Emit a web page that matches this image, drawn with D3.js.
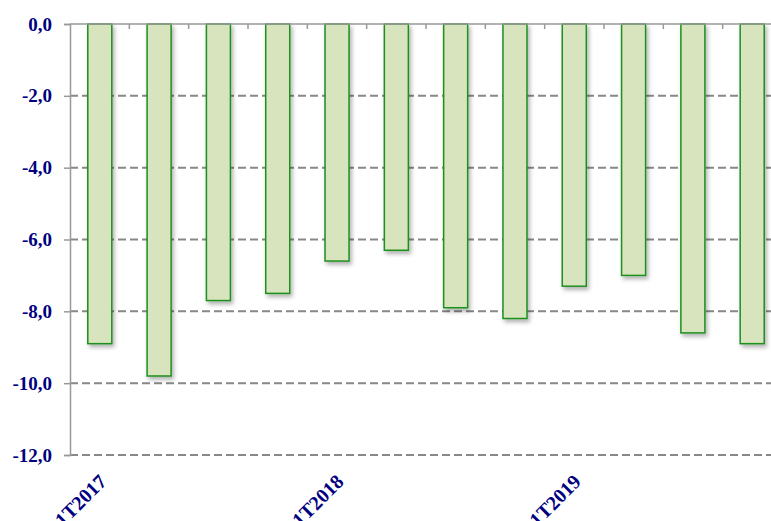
<!DOCTYPE html>
<html>
<head>
<meta charset="utf-8">
<script src="https://cdn.jsdelivr.net/npm/d3@7/dist/d3.min.js"></script>
<style>
  body { margin: 0; background: #fff; overflow: hidden; }
  text { font-family: "Liberation Serif", "Times New Roman", serif; font-weight: bold; fill: #000080; }
</style>
</head>
<body>
<div id="content"></div>
<script>
(function(d3) {

   var categories = ["1T2017", "2T2017", "3T2017", "4T2017",
                     "1T2018", "2T2018", "3T2018", "4T2018",
                     "1T2019", "2T2019", "3T2019", "4T2019"];
   var values = [-8.9, -9.8, -7.7, -7.5, -6.6, -6.3, -7.9, -8.2, -7.3, -7.0, -8.6, -8.9];
   var y_ticks = [0, -2, -4, -6, -8, -10, -12];
   var x_labels = ["1T2017", "1T2018", "1T2019"];

   var win_width = 771;
   var win_height = 521;
   var left = 70, right = 782, top = 24, bottom = 455;

   var svg = d3.select("#content")
            .append("svg")
            .attr("width", win_width)
            .attr("height", win_height);

   var defs = svg.append("defs");
   var f = defs.append("filter").attr("id", "shadow")
            .attr("x", "-20%").attr("y", "-5%").attr("width", "150%").attr("height", "120%");
   f.append("feDropShadow").attr("dx", 2).attr("dy", 3).attr("stdDeviation", 2)
            .attr("flood-color", "#000").attr("flood-opacity", 0.3);

   var x = d3.scaleBand().domain(categories).range([left, right]).paddingInner(0.595).paddingOuter(0.3);
   var y = d3.scaleLinear().domain([-12, 0]).range([bottom, top]);

   // dashed grid
   svg.append("g").selectAll("line")
      .data(y_ticks.filter(function(d) { return d !== 0; }))
      .join("line")
      .attr("x1", left).attr("x2", win_width)
      .attr("y1", function(d) { return y(d); }).attr("y2", function(d) { return y(d); })
      .attr("stroke", "#888").attr("stroke-width", 2).attr("stroke-dasharray", "8,4");

   // y axis
   var yAxis = svg.append("g").attr("transform", "translate(" + left + ",0)")
      .call(d3.axisLeft(y).tickValues(y_ticks).tickSize(6).tickPadding(12)
            .tickFormat(function(d) { return d3.format(".1f")(d).replace(".", ",").replace("−", "-"); }));
   yAxis.attr("font-family", null).attr("font-size", null);
   yAxis.select(".domain").attr("stroke", "#999").attr("stroke-width", 1.5);
   yAxis.selectAll(".tick line").attr("stroke", "#999").attr("stroke-width", 1.5);
   yAxis.selectAll("text").style("font-size", "19px").attr("fill", "#000080");

   // bars
   svg.append("g").selectAll("rect")
      .data(values)
      .join("rect")
      .attr("x", function(d, i) { return x(categories[i]); })
      .attr("y", y(0))
      .attr("width", x.bandwidth())
      .attr("height", function(d) { return y(d) - y(0); })
      .attr("fill", "#d7e4bd")
      .attr("stroke", "#1f8f1f")
      .attr("stroke-width", 1.5)
      .attr("filter", "url(#shadow)");

   // zero axis with inward ticks at band boundaries
   var bounds = d3.range(1, categories.length).map(function(i) { return left + i * (right - left) / categories.length; });
   svg.append("line").attr("x1", left).attr("x2", win_width).attr("y1", y(0)).attr("y2", y(0))
      .attr("stroke", "#999").attr("stroke-width", 1.5);
   svg.append("g").selectAll("line").data(bounds).join("line")
      .attr("x1", function(d) { return d; }).attr("x2", function(d) { return d; })
      .attr("y1", y(0)).attr("y2", y(0) + 5)
      .attr("stroke", "#999").attr("stroke-width", 1.5);

   // x labels
   svg.append("g").selectAll("text")
      .data(x_labels)
      .join("text")
      .attr("transform", function(d) {
          return "translate(" + (x(d) + x.bandwidth() / 2 - 2) + "," + (bottom + 18) + ") rotate(-45)";
      })
      .attr("text-anchor", "end")
      .attr("dy", "0.7em")
      .style("font-size", "20px")
      .text(function(d) { return d; });

})(window.d3);
</script>
</body>
</html>
